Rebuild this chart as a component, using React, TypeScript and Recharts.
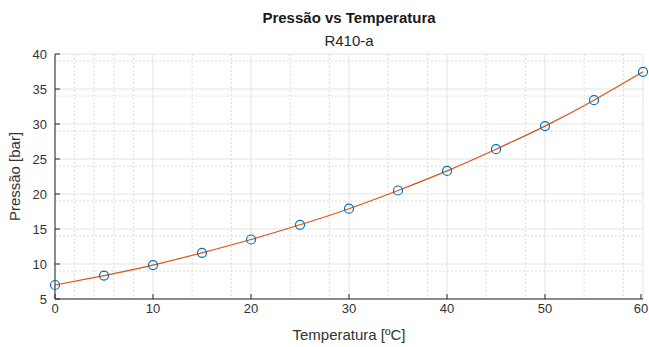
import { LineChart, Line, XAxis, YAxis, CartesianGrid, Label } from 'recharts';

// temperatura [ºC] e pressão [bar]
const temps = [0, 5, 10, 15, 20, 25, 30, 35, 40, 45, 50, 55, 60];
const pressures = [7.0, 8.35, 9.85, 11.6, 13.5, 15.6, 17.9, 20.5, 23.3, 26.4, 29.7, 33.4, 37.45];

const xTicks = [0, 10, 20, 30, 40, 50, 60];
const yTicks = [5, 10, 15, 20, 25, 30, 35, 40];
const xMinor = [2, 4, 6, 8, 12, 14, 16, 18, 22, 24, 26, 28, 32, 34, 36, 38, 42, 44, 46, 48, 52, 54, 56, 58];
const yMinor = [6, 7, 8, 9, 11, 12, 13, 14, 16, 17, 18, 19, 21, 22, 23, 24, 26, 27, 28, 29, 31, 32, 33, 34, 36, 37, 38, 39];

const data = temps.map((t, i) => ({ t, p: pressures[i] }));

const FONT = '"Liberation Sans", Arial, Helvetica, sans-serif';
const AXIS = '#262626';
const TEXT = '#333333';
const TICK_LEN = 5;

const BottomTick = (props: any) => {
  const { x, y, payload } = props;
  const y0 = y - 10;
  return (
    <g>
      <line x1={x} y1={y0} x2={x} y2={y0 - TICK_LEN} stroke={AXIS} />
      <text x={x} y={y + 4} textAnchor="middle" fontSize={13} fill={TEXT} fontFamily={FONT}>{payload.value}</text>
    </g>
  );
};

const LeftTick = (props: any) => {
  const { x, y, payload } = props;
  const x0 = x + 8;
  return (
    <g>
      <line x1={x0} y1={y} x2={x0 + TICK_LEN} y2={y} stroke={AXIS} />
      <text x={x} y={y + 5} textAnchor="end" fontSize={13} fill={TEXT} fontFamily={FONT}>{payload.value}</text>
    </g>
  );
};

const TopTick = (props: any) => {
  const { x, y } = props;
  return <line x1={x} y1={y} x2={x} y2={y + TICK_LEN} stroke={AXIS} />;
};

const RightTick = (props: any) => {
  const { x, y } = props;
  return <line x1={x} y1={y} x2={x - TICK_LEN} y2={y} stroke={AXIS} />;
};

const CircleDot = (props: any) => {
  const { cx, cy, index } = props;
  return <circle key={index} cx={cx} cy={cy} r={4.5} fill="none" stroke="#0072BD" strokeWidth={1.2} />;
};

export default function App() {
  return (
    <div style={{ position: 'absolute', left: 0, top: 0, width: 649, height: 347, background: '#fff', fontFamily: FONT }}>
      <div style={{ position: 'absolute', left: 55, width: 588, top: 9, textAlign: 'center', fontSize: 15, fontWeight: 'bold', color: '#1a1a1a' }}>
        Pressão vs Temperatura
      </div>
      <div style={{ position: 'absolute', left: 55, width: 588, top: 32, textAlign: 'center', fontSize: 15, color: '#262626' }}>
        R410-a
      </div>
      <LineChart width={649} height={347} data={data} margin={{ top: 54, right: 6, bottom: 0, left: 0 }}>
        <CartesianGrid horizontalValues={yMinor} verticalValues={xMinor} stroke="#dcdcdc" strokeDasharray="2 2" />
        <CartesianGrid horizontalValues={yTicks} verticalValues={xTicks} stroke="#e3e3e3" />
        <XAxis
          dataKey="t"
          type="number"
          domain={[0, 60]}
          ticks={xTicks}
          height={48}
          stroke={AXIS}
          tickSize={0}
          tickMargin={10}
          tick={<BottomTick />}
        >
          <Label value="Temperatura [ºC]" position="insideBottom" offset={7} fontSize={15} fill={TEXT} fontFamily={FONT} />
        </XAxis>
        <XAxis xAxisId="top" orientation="top" type="number" dataKey="t" domain={[0, 60]} ticks={xTicks} height={0} stroke={AXIS} tickSize={0} tickMargin={0} tick={<TopTick />} />
        <YAxis
          type="number"
          domain={[5, 40]}
          ticks={yTicks}
          width={55}
          stroke={AXIS}
          tickSize={0}
          tickMargin={8}
          tick={<LeftTick />}
        >
          <Label
            content={(p: any) => {
              const vb = p.viewBox;
              const cx = 20;
              const cy = vb.y + vb.height / 2;
              return (
                <text x={cx} y={cy} transform={`rotate(-90 ${cx} ${cy})`} textAnchor="middle" fontSize={15} fill={TEXT} fontFamily={FONT}>
                  Pressão [bar]
                </text>
              );
            }}
          />
        </YAxis>
        <YAxis yAxisId="right" orientation="right" type="number" domain={[5, 40]} ticks={yTicks} width={0} stroke={AXIS} tickSize={0} tickMargin={0} tick={<RightTick />} />
        <Line type="natural" dataKey="p" stroke="#D95319" strokeWidth={1.2} dot={false} activeDot={false} isAnimationActive={false} />
        <Line type="linear" dataKey="p" stroke="none" dot={<CircleDot />} activeDot={false} isAnimationActive={false} />
      </LineChart>
    </div>
  );
}
